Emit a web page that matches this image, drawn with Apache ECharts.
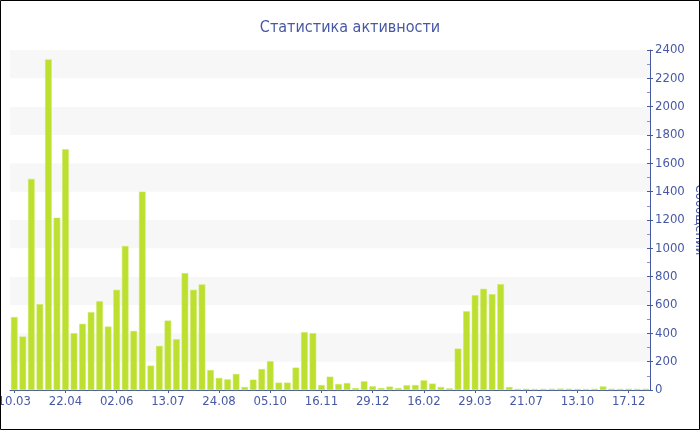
<!DOCTYPE html>
<html>
<head>
<meta charset="utf-8">
<title>Статистика активности</title>
<script src="https://cdn.jsdelivr.net/npm/echarts@6/dist/echarts.min.js"></script>
<style>
  html, body { margin: 0; padding: 0; background: #fff; }
  #chart { width: 700px; height: 430px; }
</style>
</head>
<body>
<div id="chart"></div>
<script>
// Weekly message counts; only every sixth week carries a date label
const tickLabels = ['10.03', '22.04', '02.06', '13.07', '24.08', '05.10', '16.11',
                    '29.12', '16.02', '29.03', '21.07', '13.10', '17.12'];

const messages = [
  515, 377, 1490, 606, 2333, 1216, 1699, 401, 467, 549,
  627, 448, 707, 1016, 417, 1400, 172, 311, 490, 358,
  825, 707, 745, 141, 85, 75, 113, 21, 73, 148,
  203, 52, 52, 158, 408, 401, 35, 94, 42, 49,
  14, 61, 26, 14, 24, 14, 33, 35, 68, 45,
  21, 12, 292, 556, 669, 714, 676, 747, 21, 8,
  9, 7, 8, 9, 10, 9, 8, 7, 9, 25,
  9, 8, 9, 8, 9
];

const categories = messages.map((_, i) => (i % 6 === 0 ? tickLabels[i / 6] : ''));

const FONT = 'DejaVu Sans Condensed, DejaVu Sans, sans-serif';
const INK = '#4758a4';

const chart = echarts.init(document.getElementById('chart'), null, { renderer: 'canvas' });

chart.setOption({
  animation: false,
  backgroundColor: '#ffffff',
  textStyle: { fontFamily: FONT },
  title: {
    text: 'Статистика активности',
    left: 'center',
    top: 15,
    textStyle: { fontFamily: FONT, fontSize: 16, fontWeight: 'normal', color: INK }
  },
  grid: { left: 10, right: 50, top: 50, bottom: 40, containLabel: false, outerBoundsMode: 'none' },
  xAxis: {
    type: 'category',
    data: categories,
    boundaryGap: true,
    axisLine: { show: true, lineStyle: { color: INK, width: 1 } },
    axisTick: { show: true, alignWithLabel: true, interval: 5, length: 3, lineStyle: { color: INK } },
    axisLabel: { interval: 5, margin: 5, fontSize: 13, color: INK, fontFamily: FONT, hideOverlap: false },
    splitLine: { show: false }
  },
  yAxis: [{
    type: 'value',
    position: 'right',
    min: 0,
    max: 2400,
    interval: 200,
    name: 'Сообщений',
    nameLocation: 'middle',
    nameRotate: -90,
    nameGap: 43,
    nameMoveOverlap: false,
    nameTextStyle: { fontFamily: FONT, fontSize: 13, color: INK },
    axisLine: { show: true, lineStyle: { color: INK, width: 1 } },
    axisTick: { show: true, inside: true, length: 3, lineStyle: { color: INK } },
    minorTick: { show: true, splitNumber: 2, length: 3, lineStyle: { color: '#8a93bd' } },
    axisLabel: { margin: 5, fontSize: 13, color: INK, fontFamily: FONT, formatter: (v) => String(v) },
    splitLine: { show: false },
    splitArea: { show: true, areaStyle: { color: ['#ffffff', '#f7f7f7'] } }
  }, {
    type: 'value',
    position: 'right',
    min: 0,
    max: 2400,
    interval: 200,
    axisLine: { show: false },
    axisTick: { show: true, inside: false, length: 3, lineStyle: { color: INK } },
    axisLabel: { show: false },
    splitLine: { show: false },
    splitArea: { show: false }
  }],
  series: [{
    name: 'Сообщений',
    type: 'bar',
    yAxisIndex: 0,
    data: messages,
    barCategoryGap: '23%',
    itemStyle: { color: '#bde030', borderColor: '#cce85f', borderWidth: 0.5 }
  }],
  graphic: [{
    type: 'rect',
    shape: { x: 0.5, y: 0.5, width: 699, height: 429 },
    style: { fill: null, stroke: '#000000', lineWidth: 1 },
    z: 100
  }]
});
</script>
</body>
</html>
